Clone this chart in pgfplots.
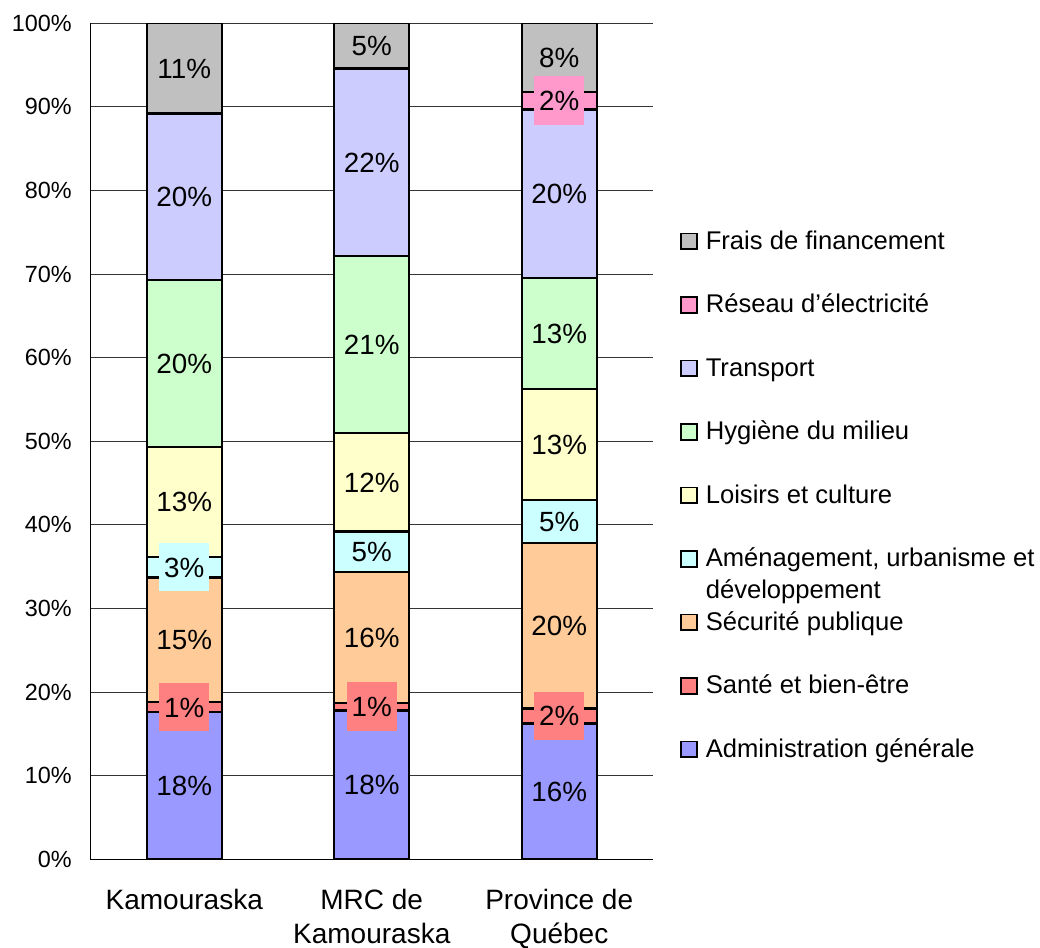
\documentclass[border=0pt]{standalone}
\usepackage{pgfplots}
\pgfplotsset{compat=1.18}
\usepackage{pgfplotstable}
\usepackage{fontspec}
\setmainfont{Liberation Sans}
\definecolor{cAdm}{HTML}{9999FF}
\definecolor{cSan}{HTML}{FF8080}
\definecolor{cSec}{HTML}{FFCC99}
\definecolor{cAme}{HTML}{CCFFFF}
\definecolor{cLoi}{HTML}{FFFFCC}
\definecolor{cHyg}{HTML}{CCFFCC}
\definecolor{cTra}{HTML}{CCCCFF}
\definecolor{cRes}{HTML}{FF99CC}
\definecolor{cFra}{HTML}{C0C0C0}
\newcommand\tickf{\fontsize{11.7}{14}\selectfont}
\newcommand\xlabf{\fontsize{14}{17.2}\selectfont}
\newcommand\legf{\fontsize{12.8}{16}\selectfont}
\newcommand\lblf{\fontsize{13.9}{16}\selectfont}
\pgfplotsset{sqleg/.style={legend image code/.code={\draw[##1,line width=0.9pt] (0pt,-2.7pt) rectangle (7.8pt,5.1pt);}}}
\pgfplotstableread{
x adm san sec ame loi hyg tra res fra
0 17.6 1.2 14.9 2.5 13.1 20.0 19.9 0 10.8
1 17.8 0.9 15.7 4.8 11.8 21.2 22.4 0 5.4
2 16.25 1.8 19.8 5.15 13.3 13.2 20.2 2.05 8.25
}\data
\begin{document}
\begin{tikzpicture}
\useasboundingbox (-45.25pt,-44.35pt) rectangle (474.75pt,429.65pt);
\begin{axis}[
  at={(0pt,0pt)}, anchor=south west,
  scale only axis, width=281.25pt, height=418pt,
  ybar stacked, bar width=37.5pt,
  xmin=-0.5, xmax=2.5, ymin=0, ymax=100,
  axis x line*=bottom, axis y line*=left,
  axis line style={black, line width=0.6pt, -},
  ymajorgrids, major grid style={black!80, line width=0.55pt},
  major tick length=0pt,
  xtick={0,1,2},
  xticklabels={Kamouraska, {MRC de\\Kamouraska}, {Province de\\Québec}},
  xticklabel style={font=\xlabf, align=center, anchor=north, inner sep=0pt, yshift=-14.7pt},
  ytick={0,10,20,30,40,50,60,70,80,90,100},
  yticklabels={0\%,10\%,20\%,30\%,40\%,50\%,60\%,70\%,80\%,90\%,100\%},
  yticklabel style={font=\tickf, anchor=east, inner sep=0pt, xshift=-9.25pt},
  /pgf/number format/assume math mode=true,
  reverse legend, legend cell align=left,
  legend style={draw=none, fill=none, at={(1.048,0.7523)}, anchor=north west,
    inner sep=0pt, row sep=18.75pt, column sep=4pt, font=\legf,
    nodes={inner sep=0pt, text height=9.3pt, text depth=3.7pt}},
  every axis plot/.append style={draw=black, line width=1.1pt},
]
\addplot[fill=cAdm, sqleg] table[x=x, y=adm] {\data};
\addlegendentry{Administration générale}
\addplot[fill=cSan, sqleg] table[x=x, y=san] {\data};
\addlegendentry{Santé et bien-être}
\addplot[fill=cSec, sqleg] table[x=x, y=sec] {\data};
\addlegendentry{Sécurité publique}
\addplot[fill=cAme, sqleg] table[x=x, y=ame] {\data};
\addlegendentry{\raisebox{0pt}[9.3pt][3.7pt]{\begin{tabular}[t]{@{}l@{}}Aménagement, urbanisme et\\développement\end{tabular}}}
\addplot[fill=cLoi, sqleg] table[x=x, y=loi] {\data};
\addlegendentry{Loisirs et culture}
\addplot[fill=cHyg, sqleg] table[x=x, y=hyg] {\data};
\addlegendentry{Hygiène du milieu}
\addplot[fill=cTra, sqleg] table[x=x, y=tra] {\data};
\addlegendentry{Transport}
\addplot[fill=cRes, sqleg] table[x=x, y=res] {\data};
\addlegendentry{Réseau d'électricité}
\addplot[fill=cFra, sqleg] table[x=x, y=fra] {\data};
\addlegendentry{Frais de financement}
\end{axis}
\begin{axis}[
  at={(0pt,0pt)}, anchor=south west,
  scale only axis, width=281.25pt, height=418pt,
  xmin=-0.5, xmax=2.5, ymin=0, ymax=100, hide axis, clip=false,
  nodes near coords, point meta=explicit symbolic,
  every node near coord/.append style={anchor=center, font=\lblf, inner xsep=2.45pt, inner ysep=7.2pt, text height=9.95pt, text depth=0pt},
]
\addplot[draw=none, mark=none] coordinates {(0,8.8)[18\%] (1,8.9)[18\%] (2,8.125)[16\%]};
\addplot[draw=none, mark=none, every node near coord/.append style={fill=cSan}] coordinates {(0,18.2)[1\%] (1,18.25)[1\%] (2,17.15)[2\%]};
\addplot[draw=none, mark=none] coordinates {(0,26.25)[15\%] (1,26.55)[16\%] (2,27.95)[20\%]};
\addplot[draw=none, mark=none, every node near coord/.append style={fill=cAme}] coordinates {(0,34.95)[3\%]};
\addplot[draw=none, mark=none] coordinates {(1,36.8)[5\%] (2,40.45)[5\%]};
\addplot[draw=none, mark=none] coordinates {(0,42.75)[13\%] (1,45.1)[12\%] (2,49.65)[13\%]};
\addplot[draw=none, mark=none] coordinates {(0,59.3)[20\%] (1,61.6)[21\%] (2,62.9)[13\%]};
\addplot[draw=none, mark=none] coordinates {(0,79.25)[20\%] (1,83.4)[22\%] (2,79.6)[20\%]};
\addplot[draw=none, mark=none, every node near coord/.append style={fill=cRes}] coordinates {(2,90.725)[2\%]};
\addplot[draw=none, mark=none] coordinates {(0,94.6)[11\%] (1,97.3)[5\%] (2,95.875)[8\%]};
\end{axis}
\end{tikzpicture}
\end{document}
